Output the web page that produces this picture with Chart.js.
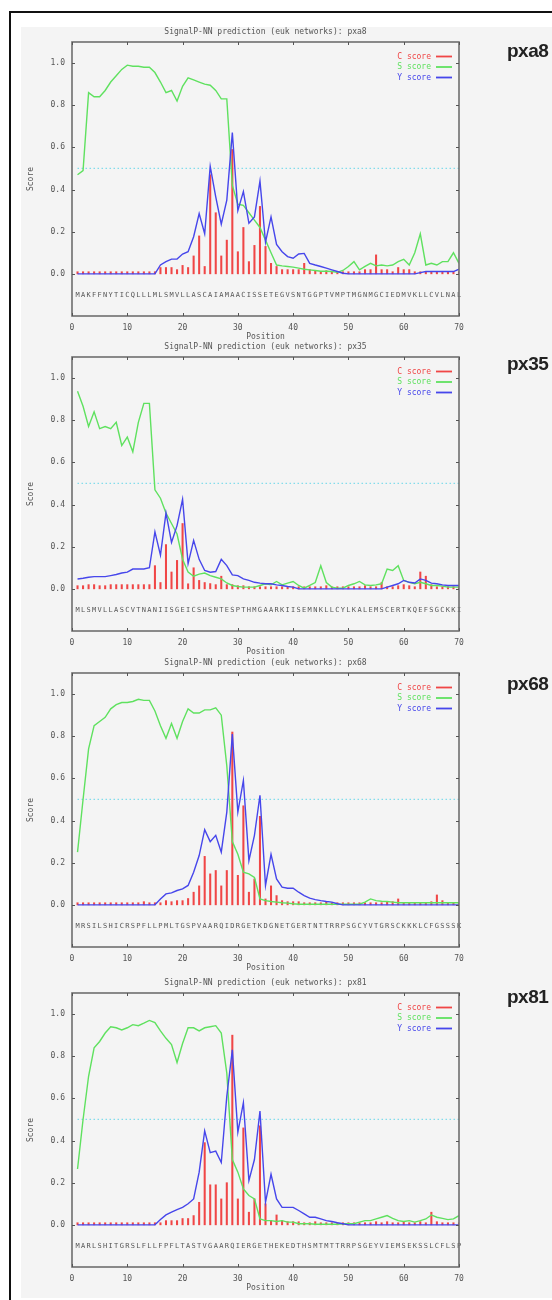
<!DOCTYPE html>
<html lang="en">
<head>
<meta charset="UTF-8">
<title>SignalP-NN predictions</title>
<script src="https://cdn.jsdelivr.net/npm/chart.js"></script>
<style>
    body { margin: 0; background: #fff; width: 552px; height: 1300px; overflow: hidden; position: relative; }
    .frameTop { position: absolute; left: 9px; top: 11px; width: 543px; height: 2px; background: #111; }
    .frameLeft { position: absolute; left: 9px; top: 11px; width: 2px; height: 1289px; background: #111; }
    .sheet { position: absolute; left: 21px; top: 27px; width: 531px; height: 1271px; background: #f4f4f4; }
    canvas { position: absolute; left: 21px; }
    .tag { position: absolute; left: 507px; font: bold 19px "Liberation Sans", Arial, sans-serif; line-height: 19px; color: #222; letter-spacing: -0.5px; }
</style>
</head>
<body>
<div class="sheet"></div>
<div class="frameTop"></div>
<div class="frameLeft"></div>

<canvas id="c0" width="531" height="320"></canvas>
<canvas id="c1" width="531" height="320"></canvas>
<canvas id="c2" width="531" height="320"></canvas>
<canvas id="c3" width="531" height="320"></canvas>

<script>
// ---- data (positions 1..70) ----
const proteins = ['pxa8', 'px35', 'px68', 'px81'];

const seqPxa8 = 'MAKFFNYTICQLLLMLSMVLLASCAIAMAACISSETEGVSNTGGPTVMPTMGNMGCIEDMVKLLCVLNAL';
const seqPx35 = 'MLSMVLLASCVTNANIISGEICSHSNTESPTHMGAARKIISEMNKLLCYLKALEMSCERTKQEFSGCKKI';
const seqPx68 = 'MRSILSHICRSPFLLPMLTGSPVAARQIDRGETKDGNETGERTNTTRRPSGCYVTGRSCKKKLCFGSSSK';
const seqPx81 = 'MARLSHITGRSLFLLFPFLTASTVGAARQIERGETHEKEDTHSMTMTTRRPSGEYVIEMSEKSSLCFLSP';

// C score (impulses)
const cPxa8 = [0.01,0.01,0.01,0.01,0.01,0.01,0.01,0.01,0.01,0.01, 0.01,0.01,0.01,0.01,0.01,0.03,0.03,0.03,0.02,0.04,
    0.03,0.085,0.18,0.035,0.47,0.29,0.085,0.16,0.59,0.105, 0.22,0.058,0.135,0.32,0.13,0.05,0.035,0.02,0.02,0.02,
    0.02,0.05,0.02,0.015,0.01,0.015,0.01,0.01,0.01,0.01, 0.01,0.01,0.02,0.02,0.09,0.02,0.02,0.01,0.03,0.02,
    0.02,0.01,0.01,0.01,0.01,0.01,0.01,0.01,0.01,0.01];
const cPx35 = [0.015,0.015,0.02,0.02,0.015,0.015,0.02,0.02,0.02,0.02, 0.02,0.02,0.02,0.02,0.11,0.03,0.21,0.08,0.135,0.31,
    0.024,0.10,0.04,0.03,0.025,0.02,0.06,0.02,0.02,0.015, 0.015,0.01,0.01,0.01,0.01,0.01,0.01,0.01,0.01,0.01,
    0.01,0.01,0.01,0.01,0.01,0.015,0.01,0.01,0.01,0.01, 0.01,0.01,0.015,0.01,0.01,0.03,0.01,0.01,0.015,0.02,
    0.015,0.01,0.08,0.06,0.02,0.01,0.01,0.01,0.01,0.01];
const cPx68 = [0.01,0.01,0.01,0.01,0.01,0.01,0.01,0.01,0.01,0.01, 0.01,0.01,0.015,0.01,0.01,0.01,0.02,0.015,0.02,0.02,
    0.03,0.06,0.09,0.23,0.147,0.163,0.09,0.163,0.82,0.14, 0.47,0.06,0.123,0.42,0.028,0.09,0.044,0.02,0.015,0.015,
    0.015,0.01,0.01,0.01,0.01,0.015,0.01,0.01,0.01,0.01, 0.01,0.01,0.01,0.01,0.01,0.01,0.015,0.015,0.028,0.01,
    0.01,0.01,0.01,0.01,0.015,0.047,0.02,0.01,0.01,0.01];
const cPx81 = [0.01,0.01,0.01,0.01,0.01,0.01,0.01,0.01,0.01,0.01, 0.01,0.01,0.01,0.01,0.01,0.01,0.02,0.02,0.02,0.03,
    0.03,0.044,0.107,0.39,0.19,0.19,0.123,0.2,0.90,0.123, 0.46,0.06,0.123,0.47,0.1,0.02,0.047,0.02,0.015,0.015,
    0.015,0.01,0.01,0.015,0.01,0.01,0.01,0.01,0.01,0.01, 0.01,0.01,0.01,0.01,0.015,0.01,0.015,0.01,0.01,0.015,
    0.01,0.01,0.015,0.01,0.06,0.015,0.01,0.01,0.01,0.01];

// S score
const sPxa8 = [0.47,0.49,0.86,0.84,0.84,0.87,0.91,0.94,0.97,0.99, 0.985,0.985,0.98,0.98,0.955,0.91,0.86,0.87,0.82,0.89,
    0.93,0.92,0.91,0.90,0.895,0.87,0.83,0.83,0.42,0.33, 0.325,0.29,0.255,0.22,0.16,0.10,0.042,0.038,0.035,0.032,
    0.027,0.022,0.019,0.016,0.012,0.012,0.011,0.007,0.016,0.035, 0.058,0.019,0.035,0.05,0.038,0.042,0.038,0.042,0.058,0.069,
    0.042,0.10,0.19,0.042,0.05,0.042,0.058,0.058,0.10,0.05];
const sPx35 = [0.937,0.866,0.77,0.84,0.76,0.77,0.76,0.79,0.68,0.72, 0.65,0.79,0.88,0.88,0.47,0.43,0.36,0.31,0.26,0.14,
    0.08,0.06,0.07,0.075,0.063,0.055,0.047,0.028,0.016,0.011, 0.008,0.008,0.008,0.016,0.024,0.019,0.035,0.019,0.027,0.035,
    0.016,0.003,0.016,0.03,0.11,0.03,0.008,0.003,0.003,0.016, 0.024,0.035,0.019,0.016,0.019,0.024,0.094,0.087,0.11,0.04,
    0.031,0.024,0.031,0.024,0.016,0.016,0.013,0.008,0.008,0.008];
const sPx68 = [0.25,0.50,0.74,0.85,0.87,0.89,0.93,0.95,0.96,0.96, 0.965,0.975,0.97,0.97,0.92,0.85,0.79,0.86,0.79,0.87,
    0.93,0.91,0.91,0.925,0.925,0.935,0.90,0.66,0.30,0.24, 0.155,0.147,0.13,0.028,0.02,0.016,0.013,0.01,0.008,0.005,
    0.003,0.003,0.003,0.003,0.003,0.003,0.003,0.003,0.003,0.003, 0.003,0.003,0.013,0.028,0.02,0.017,0.016,0.013,0.01,0.01,
    0.01,0.01,0.01,0.01,0.01,0.01,0.01,0.01,0.01,0.01];
const sPx81 = [0.265,0.50,0.705,0.84,0.87,0.91,0.94,0.935,0.925,0.935, 0.95,0.945,0.957,0.97,0.96,0.92,0.885,0.855,0.77,0.86,
    0.935,0.935,0.92,0.935,0.94,0.945,0.91,0.72,0.31,0.25, 0.17,0.139,0.123,0.028,0.02,0.02,0.016,0.02,0.013,0.013,
    0.005,0.005,0.005,0.003,0.003,0.003,0.003,0.003,0.005,0.005, 0.005,0.013,0.02,0.02,0.028,0.036,0.044,0.031,0.02,0.016,
    0.02,0.013,0.02,0.028,0.047,0.036,0.031,0.025,0.028,0.044];

// Y score
const yPxa8 = [0,0,0,0,0,0,0,0,0,0, 0,0,0,0,0,0.042,0.058,0.07,0.07,0.094,
    0.105,0.176,0.286,0.19,0.51,0.365,0.236,0.35,0.67,0.30, 0.39,0.24,0.27,0.44,0.15,0.27,0.14,0.105,0.082,0.074,
    0.094,0.097,0.05,0.042,0.035,0.027,0.019,0.011,0.003,0, 0,0,0,0,0,0,0,0,0,0,
    0,0,0.006,0.011,0.011,0.011,0.011,0.011,0.011,0.022];
const yPx35 = [0.047,0.05,0.055,0.058,0.058,0.058,0.063,0.068,0.075,0.079, 0.094,0.094,0.094,0.10,0.27,0.16,0.36,0.22,0.30,0.425,
    0.12,0.23,0.14,0.087,0.079,0.082,0.14,0.11,0.066,0.063, 0.047,0.04,0.031,0.027,0.024,0.024,0.019,0.016,0.011,0.008,
    0,0,0,0,0,0,0,0,0,0, 0,0,0,0,0,0,0.008,0.016,0.024,0.04,
    0.031,0.028,0.047,0.04,0.027,0.024,0.019,0.016,0.016,0.016];
const yPx68 = [0,0,0,0,0,0,0,0,0,0, 0,0,0,0,0,0.028,0.052,0.057,0.068,0.076,
    0.092,0.155,0.234,0.357,0.30,0.33,0.25,0.44,0.81,0.44, 0.59,0.21,0.33,0.52,0.092,0.24,0.123,0.084,0.079,0.079,
    0.06,0.044,0.032,0.025,0.02,0.016,0.013,0.005,0,0, 0,0,0,0,0,0,0,0,0,0,
    0,0,0,0,0,0,0,0,0,0];
const yPx81 = [0,0,0,0,0,0,0,0,0,0, 0,0,0,0,0,0.025,0.047,0.06,0.072,0.083,
    0.10,0.123,0.25,0.446,0.343,0.35,0.296,0.61,0.83,0.44, 0.58,0.21,0.31,0.54,0.107,0.24,0.123,0.083,0.083,0.083,
    0.068,0.052,0.036,0.036,0.028,0.02,0.016,0.01,0.005,0, 0,0,0,0,0,0,0,0,0,0,
    0,0,0,0,0,0,0,0,0,0];

const cutoff = 0.5;        // dotted threshold line
const seqLevel = -0.1;     // row where the sequence is printed
const yTickLabels = [0.0, 0.2, 0.4, 0.6, 0.8, 1.0];
const xTickLabels = [0, 10, 20, 30, 40, 50, 60, 70];

const sequences = [seqPxa8, seqPx35, seqPx68, seqPx81];
const cScores = [cPxa8, cPx35, cPx68, cPx81];
const sScores = [sPxa8, sPx35, sPx68, sPx81];
const yScores = [yPxa8, yPx35, yPx68, yPx81];

// ---- layout ----
const plotTops = [42, 357, 673, 993];
const tagTops = [41, 354, 674, 987];

const RED = 'rgb(240,70,70)';
const GREEN = 'rgb(95,225,95)';
const BLUE = 'rgb(70,70,235)';
const CYAN = 'rgb(130,220,235)';
const MONO = '"DejaVu Sans Mono", monospace';
const TXT = '#555';

function toXY(arr) {
    return arr.map((v, i) => ({ x: i + 1, y: v }));
}

// gnuplot style frame, inner ticks, legend and sequence row
const gnuPlugin = {
    id: 'gnuplot',
    afterDraw(chart, args, opts) {
        const { ctx, chartArea: a, scales: { x, y } } = chart;
        ctx.save();

        // sequence letters under the zero line
        ctx.font = '7px ' + MONO;
        ctx.fillStyle = TXT;
        ctx.textAlign = 'center';
        ctx.textBaseline = 'middle';
        const seq = opts.seq || '';
        for (let k = 0; k < seq.length; k++) {
            ctx.fillText(seq[k], x.getPixelForValue(k + 1), y.getPixelForValue(seqLevel));
        }

        // frame
        ctx.strokeStyle = '#6e6e6e';
        ctx.lineWidth = 1.6;
        ctx.strokeRect(a.left, a.top, a.width, a.height);

        // inward tick marks on all four sides
        ctx.lineWidth = 1;
        ctx.strokeStyle = '#555';
        ctx.beginPath();
        xTickLabels.forEach(v => {
            const px = Math.round(x.getPixelForValue(v)) + 0.5;
            ctx.moveTo(px, a.bottom); ctx.lineTo(px, a.bottom - 3);
            ctx.moveTo(px, a.top); ctx.lineTo(px, a.top + 3);
        });
        yTickLabels.forEach(v => {
            const py = Math.round(y.getPixelForValue(v)) + 0.5;
            ctx.moveTo(a.left, py); ctx.lineTo(a.left + 3, py);
            ctx.moveTo(a.right, py); ctx.lineTo(a.right - 3, py);
        });
        ctx.stroke();

        // legend, top right inside the frame
        const items = chart.data.datasets.filter(d => d.legendRow !== undefined)
            .sort((p, q) => p.legendRow - q.legendRow);
        ctx.font = '8px ' + MONO;
        ctx.textAlign = 'right';
        items.forEach((d, r) => {
            const ly = a.top + 14.5 + r * 10.5;
            const col = d.borderColor || d.backgroundColor;
            ctx.fillStyle = col;
            ctx.fillText(d.label, a.right - 28, ly);
            ctx.strokeStyle = col;
            ctx.lineWidth = 1.8;
            ctx.beginPath();
            ctx.moveTo(a.right - 23, ly);
            ctx.lineTo(a.right - 7, ly);
            ctx.stroke();
        });
        ctx.restore();
    }
};

function makePanel(i) {
    const canvas = document.getElementById('c' + i);
    canvas.style.top = (plotTops[i] - 20) + 'px';

    const tag = document.createElement('div');
    tag.className = 'tag';
    tag.style.top = tagTops[i] + 'px';
    tag.textContent = proteins[i];
    document.body.appendChild(tag);

    const small = { family: MONO, size: 8, weight: 'normal' };

    new Chart(canvas, {
        type: 'line',
        data: {
            datasets: [
                { label: 'Y score', legendRow: 2, data: toXY(yScores[i]), borderColor: BLUE, borderWidth: 1.4,
                  pointRadius: 0, tension: 0, order: 1 },
                { label: 'S score', legendRow: 1, data: toXY(sScores[i]), borderColor: GREEN, borderWidth: 1.4,
                  pointRadius: 0, tension: 0, order: 2 },
                { type: 'bar', label: 'C score', legendRow: 0, data: toXY(cScores[i]), backgroundColor: RED,
                  barThickness: 1.4, order: 3 },
                { label: 'cutoff', data: [{ x: 1, y: cutoff }, { x: 70, y: cutoff }], borderColor: CYAN,
                  borderWidth: 1.2, borderDash: [1.5, 2.5], pointRadius: 0, order: 4 }
            ]
        },
        options: {
            responsive: false,
            animation: false,
            devicePixelRatio: 1,
            layout: { padding: { left: 0, right: 93, top: 0, bottom: 0 } },
            plugins: {
                legend: { display: false },
                tooltip: { enabled: false },
                title: {
                    display: true,
                    text: 'SignalP-NN prediction (euk networks): ' + proteins[i],
                    fullSize: false,
                    font: small,
                    color: TXT,
                    padding: { top: 5.2, bottom: 5.2 }
                },
                gnuplot: { seq: sequences[i] }
            },
            scales: {
                x: {
                    type: 'linear', min: 0, max: 70, offset: false,
                    grid: { display: false, drawTicks: false },
                    border: { display: false },
                    afterBuildTicks: s => { s.ticks = xTickLabels.map(v => ({ value: v })); },
                    ticks: { font: small, color: TXT, padding: 7, maxRotation: 0, autoSkip: false,
                             callback: v => String(v) },
                    title: { display: true, text: 'Position', font: small, color: TXT, padding: 0 },
                    afterFit: s => { s.height = 26; }
                },
                y: {
                    type: 'linear', min: -0.2, max: 1.1,
                    grid: { display: false, drawTicks: false },
                    border: { display: false },
                    afterBuildTicks: s => { s.ticks = yTickLabels.map(v => ({ value: v })); },
                    ticks: { font: small, color: TXT, padding: 7, autoSkip: false,
                             callback: v => v.toFixed(1) },
                    title: { display: true, text: 'Score', font: small, color: TXT, padding: { top: 5, bottom: 0 } },
                    afterFit: s => { s.width = 51; }
                }
            }
        },
        plugins: [gnuPlugin]
    });
}

proteins.forEach((p, i) => makePanel(i));
</script>
</body>
</html>
